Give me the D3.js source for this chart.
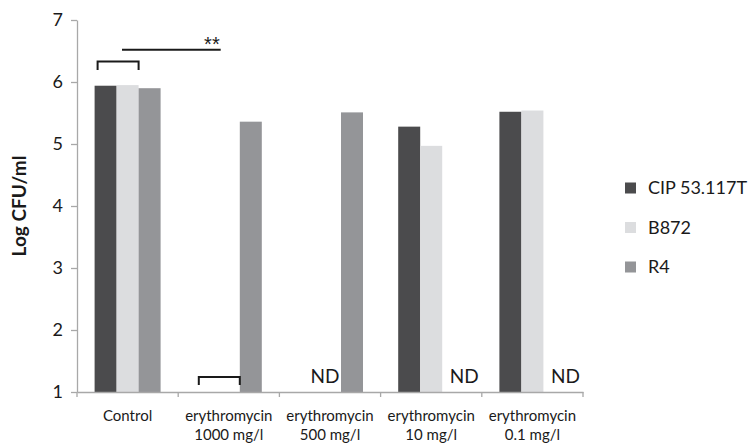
<!DOCTYPE html>
<html>
<head>
<meta charset="utf-8">
<script src="https://cdn.jsdelivr.net/npm/d3@7"></script>
<style>
  html, body { margin: 0; padding: 0; background: #fff; }
  svg text { font-family: Lato, "Open Sans", sans-serif; fill: #1a1a1a; }
</style>
</head>
<body>
<svg id="chart" width="748" height="444"></svg>
<script>
// ---- data ----
const categories = ["Control", "erythromycin|1000 mg/l", "erythromycin|500 mg/l", "erythromycin|10 mg/l", "erythromycin|0.1 mg/l"];
const seriesNames = ["CIP 53.117T", "B872", "R4"];
const cipValues  = [5.94, null, null, 5.28, 5.52];
const b872Values = [5.95, null, null, 4.97, 5.54];
const r4Values   = [5.90, 5.36, 5.51, null, null];
const yTicks = [1, 2, 3, 4, 5, 6, 7];
const yLabel = "Log CFU/ml";
const ndLabels = [
  { category: "erythromycin|500 mg/l", series: "B872" },
  { category: "erythromycin|10 mg/l", series: "R4" },
  { category: "erythromycin|0.1 mg/l", series: "R4" }
];
const significance = "**";

// ---- layout ----
const colors = { "CIP 53.117T": "#4b4b4d", "B872": "#dcdddf", "R4": "#949598" };
const axisColor = "#a8a8a8";
const svg = d3.select("#chart");
const mLeft = 77, mRight = 583, mTop = 20, mBottom = 392;

const x0 = d3.scaleBand().domain(categories).range([mLeft, mRight]).padding(0);
const x1 = d3.scaleBand().domain(seriesNames).range([0, x0.bandwidth()]).paddingInner(0).paddingOuter(0.8);
const y = d3.scaleLinear().domain([1, 7]).range([mBottom, mTop]);

const valuesBySeries = { "CIP 53.117T": cipValues, "B872": b872Values, "R4": r4Values };
const rows = [];
seriesNames.forEach(s => valuesBySeries[s].forEach((v, i) => {
  if (v != null) rows.push({ category: categories[i], series: s, value: v });
}));

// y axis
const yAxis = svg.append("g").attr("transform", `translate(${mLeft},0)`)
  .call(d3.axisLeft(y).tickValues(yTicks).tickFormat(d3.format("d")).tickSizeOuter(0).tickSizeInner(6).tickPadding(8));
yAxis.selectAll("path,line").attr("stroke", axisColor).attr("stroke-width", 1.3);
yAxis.selectAll("text").style("font-size", "18px").attr("fill", "#1a1a1a");

// bars
svg.append("g").selectAll("rect").data(rows).join("rect")
  .attr("x", d => x0(d.category) + x1(d.series))
  .attr("width", x1.bandwidth())
  .attr("y", d => y(d.value))
  .attr("height", d => y(1) - y(d.value))
  .attr("fill", d => colors[d.series]);

// x axis
const xAxis = svg.append("g").attr("transform", `translate(0,${mBottom})`)
  .call(d3.axisBottom(x0).tickSize(0).tickPadding(0).tickFormat(() => ""));
xAxis.select("path").attr("stroke", axisColor).attr("stroke-width", 1.3);
const boundaries = categories.map(c => x0(c)).concat([x0(categories[categories.length - 1]) + x0.bandwidth()]);
svg.append("g").selectAll("line").data(boundaries).join("line")
  .attr("x1", d => d).attr("x2", d => d)
  .attr("y1", mBottom).attr("y2", mBottom + 5)
  .attr("stroke", axisColor).attr("stroke-width", 1.3);
const catLabels = svg.append("g").selectAll("text").data(categories).join("text")
  .attr("x", d => x0(d) + x0.bandwidth() / 2)
  .attr("y", 421)
  .attr("text-anchor", "middle")
  .style("font-size", "15px");
catLabels.each(function(d) {
  const parts = d.split("|");
  const t = d3.select(this);
  parts.forEach((p, i) => t.append("tspan").attr("x", x0(d) + x0.bandwidth() / 2).attr("dy", i === 0 ? 0 : 19).text(p));
});

// y label
svg.append("text")
  .attr("transform", `translate(26,${(mTop + mBottom) / 2}) rotate(-90)`)
  .attr("text-anchor", "middle")
  .style("font-size", "19px").style("font-weight", "bold")
  .text(yLabel);

// ND labels
const ndDx = { "B872": -5, "R4": 11 };
svg.append("g").selectAll("text").data(ndLabels).join("text")
  .attr("x", d => x0(d.category) + x1(d.series) + x1.bandwidth() / 2 + ndDx[d.series])
  .attr("y", 383)
  .attr("text-anchor", "middle")
  .style("font-size", "19px")
  .text("ND");

// brackets
function bracket(cat, yTop, legLen) {
  const xa = x0(cat) + x1("CIP 53.117T") + 3;
  const xb = x0(cat) + x1("B872") + x1.bandwidth();
  svg.append("path")
    .attr("d", `M${xa},${yTop + legLen}V${yTop}H${xb}V${yTop + legLen}`)
    .attr("fill", "none").attr("stroke", "#1a1a1a").attr("stroke-width", 2);
}
bracket(categories[0], y(6.33), 8.5);
bracket(categories[1], y(1.24), 8);

// significance line
const sx1 = x0(categories[0]) + 45, sx2 = x0(categories[1]) + 42.5;
svg.append("line")
  .attr("x1", sx1).attr("x2", sx2).attr("y1", y(6.52)).attr("y2", y(6.52))
  .attr("stroke", "#1a1a1a").attr("stroke-width", 1.8);
svg.append("text")
  .attr("x", sx2 - 1).attr("y", y(6.52) + 1)
  .attr("text-anchor", "end")
  .style("font-family", "'Liberation Sans', Arial, sans-serif")
  .style("font-size", "20px")
  .text(significance);

// legend
const legend = svg.append("g").selectAll("g").data(seriesNames).join("g")
  .attr("transform", (d, i) => `translate(625,${188 + i * 39.5})`);
legend.append("rect").attr("x", 0).attr("y", -5.5).attr("width", 11).attr("height", 11)
  .attr("fill", d => colors[d]);
legend.append("text").attr("x", 23).attr("y", 0).attr("dy", "0.36em")
  .style("font-size", "18px").text(d => d);
</script>
</body>
</html>
